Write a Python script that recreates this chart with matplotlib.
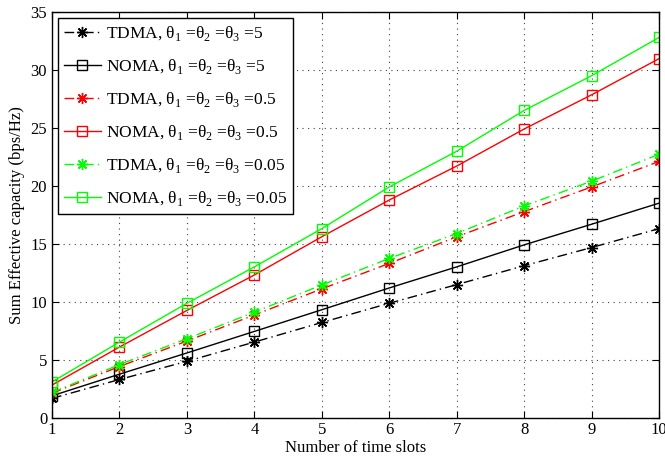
import matplotlib
matplotlib.use('Agg')
import matplotlib.pyplot as plt
import numpy as np

plt.rcParams['font.family'] = ['Liberation Serif', 'DejaVu Serif']
plt.rcParams['mathtext.fontset'] = 'custom'
plt.rcParams['mathtext.rm'] = 'Liberation Serif'

slots = np.arange(1, 11)

tdma_5 = [1.65, 3.28, 4.85, 6.51, 8.2, 9.86, 11.47, 13.1, 14.67, 16.3]
noma_5 = [1.87, 3.74, 5.57, 7.43, 9.3, 11.18, 13.0, 14.9, 16.68, 18.5]
tdma_05 = [2.1, 4.4, 6.6, 8.85, 11.1, 13.3, 15.6, 17.77, 19.9, 22.1]
noma_05 = [2.8, 6.08, 9.24, 12.3, 15.6, 18.77, 21.7, 24.9, 27.85, 30.97]
tdma_005 = [2.16, 4.57, 6.8, 9.09, 11.44, 13.73, 15.88, 18.26, 20.4, 22.72]
noma_005 = [3.07, 6.51, 9.86, 13.0, 16.3, 19.9, 22.98, 26.5, 29.5, 32.8]

labels = ['TDMA, θ$_1$ =θ$_2$ =θ$_3$ =5',
          'NOMA, θ$_1$ =θ$_2$ =θ$_3$ =5',
          'TDMA, θ$_1$ =θ$_2$ =θ$_3$ =0.5',
          'NOMA, θ$_1$ =θ$_2$ =θ$_3$ =0.5',
          'TDMA, θ$_1$ =θ$_2$ =θ$_3$ =0.05',
          'NOMA, θ$_1$ =θ$_2$ =θ$_3$ =0.05']

series = [tdma_5, noma_5, tdma_05, noma_05, tdma_005, noma_005]
colors = ['k', 'k', '#ff0000', '#ff0000', '#00ff00', '#00ff00']

fig = plt.figure(figsize=(6.65, 4.62), dpi=100)
ax = fig.add_axes([52 / 665, 1 - 417.5 / 462, 607 / 665, 405.5 / 462])

for i, (vals, col, lab) in enumerate(zip(series, colors, labels)):
    if i % 2 == 0:
        ax.plot(slots, vals, linestyle=(0, (7, 3, 1, 3)), color=col, marker=(8, 2, 0),
                markersize=8, markeredgewidth=1.0, linewidth=1.0, label=lab)
    else:
        ax.plot(slots, vals, linestyle='-', color=col, marker='s',
                markersize=7, markerfacecolor='none', markeredgewidth=1.0,
                linewidth=1.0, label=lab)

ax.set_xlim(1, 10)
ax.set_ylim(0, 35)
ax.set_xticks(range(1, 11))
ax.set_yticks(range(0, 36, 5))
ax.grid(True, linestyle=(0, (1, 4)), color='#444444', linewidth=0.8)
ax.tick_params(direction='in', top=True, right=True, labelsize=12, length=5)
for s in ax.spines.values():
    s.set_linewidth(1.0)

ax.set_xlabel('Number of time slots', fontsize=12, labelpad=1)
ax.set_ylabel('Sum Effective capacity (bps/Hz)', fontsize=12, labelpad=4)

leg = ax.legend(loc='upper left', fontsize=12.5, fancybox=False, framealpha=1,
                edgecolor='k', handlelength=2.1, labelspacing=0.8,
                borderpad=0.35, handletextpad=0.3, borderaxespad=0.35)
leg.get_frame().set_linewidth(1.0)

fig.savefig('out.png', dpi=100)
